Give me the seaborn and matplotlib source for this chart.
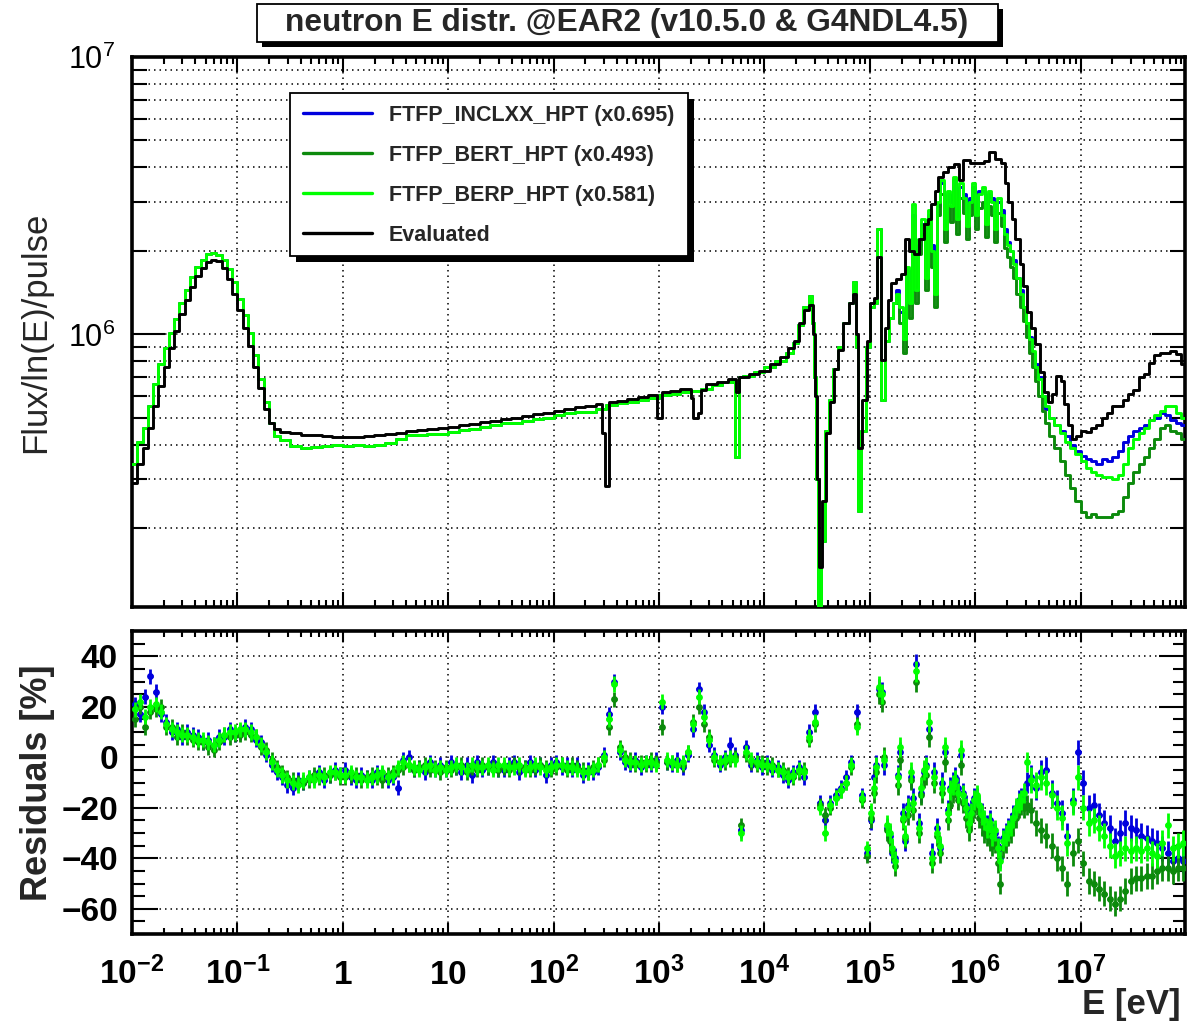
import numpy as np
import matplotlib
matplotlib.use("Agg")
import matplotlib.pyplot as plt
from matplotlib.patches import Rectangle
from matplotlib.lines import Line2D
from matplotlib.font_manager import FontProperties
from matplotlib.ticker import LogLocator, NullFormatter, FixedLocator, MultipleLocator, FuncFormatter
import seaborn as sns

sns.set_style("ticks")
plt.rcParams["font.family"] = ["Liberation Sans", "DejaVu Sans"]
plt.rcParams["mathtext.fontset"] = "custom"
plt.rcParams["mathtext.rm"] = "Liberation Sans"
plt.rcParams["mathtext.bf"] = "Liberation Sans:bold"
plt.rcParams["mathtext.it"] = "Liberation Sans:italic"
plt.rcParams["axes.edgecolor"] = "black"
plt.rcParams["xtick.color"] = "black"
plt.rcParams["ytick.color"] = "black"

# ---------------------------------------------------------------- data
model_names = ["FTFP_INCLXX_HPT", "FTFP_BERT_HPT", "FTFP_BERP_HPT"]
model_scale = [0.695, 0.493, 0.581]
model_colors = ["#0000dd", "#0c8a0c", "#00ff00"]

flux_unit = 1e5  # flux values below are in units of 1e5 / ln(E) / pulse

# histogram bin edges (log10 E [eV]) shared by all curves at thermal/epithermal energies
low_log_e = [-2.00, -1.95, -1.90, -1.85, -1.80, -1.75, -1.70, -1.65, -1.60, -1.55,
             -1.50, -1.45, -1.40, -1.35, -1.30, -1.25, -1.20, -1.15, -1.10, -1.05,
             -1.00, -0.95, -0.90, -0.85, -0.80, -0.75, -0.70, -0.65, -0.60,
             -0.5, -0.4, -0.3, -0.2, -0.1, 0.0, 0.1, 0.2, 0.3, 0.4,
             0.5, 0.6, 0.7, 0.8, 0.9, 1.0, 1.1, 1.2, 1.3, 1.4,
             1.5, 1.6, 1.7, 1.8, 1.9, 2.0, 2.1, 2.2, 2.3, 2.4]

eval_low_flux = [2.9, 3.4, 3.9, 4.6, 5.5, 6.5, 7.6, 8.9, 10.3, 11.8,
                 13.3, 14.8, 16.2, 17.3, 18.2, 18.6, 18.4, 17.3, 15.8, 14.0,
                 12.2, 10.5, 9.1, 7.6, 6.4, 5.4, 4.8, 4.55, 4.45,
                 4.40, 4.35, 4.32, 4.30, 4.28, 4.27, 4.28, 4.30, 4.34, 4.38,
                 4.42, 4.47, 4.51, 4.56, 4.60, 4.65, 4.70, 4.76, 4.82, 4.88,
                 4.94, 5.00, 5.07, 5.15, 5.20, 5.30, 5.37, 5.45, 5.52, 5.60]

eval_hi_log_e = [2.46, 2.49, 2.53, 2.6, 2.7, 2.8, 2.9, 2.98, 3.03, 3.1,
                 3.2, 3.3, 3.32, 3.37, 3.40, 3.45, 3.55, 3.65, 3.73, 3.76,
                 3.85, 3.95, 4.05, 4.15, 4.22, 4.28, 4.33, 4.38, 4.42, 4.46,
                 4.48, 4.50, 4.52, 4.55, 4.58, 4.62, 4.66, 4.70, 4.75, 4.80,
                 4.84, 4.87, 4.89, 4.93, 4.97, 5.00, 5.04, 5.07, 5.11, 5.14,
                 5.17, 5.20, 5.25, 5.30, 5.33, 5.37, 5.42, 5.47, 5.51, 5.55,
                 5.58, 5.62, 5.65, 5.69, 5.74, 5.80, 5.85, 5.88, 5.95, 6.02,
                 6.08, 6.13, 6.19, 6.24, 6.28, 6.31, 6.35, 6.38, 6.42, 6.45,
                 6.49, 6.53, 6.57, 6.61, 6.65, 6.69, 6.73, 6.77, 6.81, 6.84,
                 6.88, 6.92, 6.96, 7.00, 7.05, 7.10, 7.15, 7.20, 7.25, 7.30,
                 7.35, 7.40, 7.45, 7.50, 7.55, 7.60, 7.65, 7.70, 7.75, 7.80,
                 7.85, 7.90, 7.95, 8.00]

eval_hi_flux = [4.4, 2.85, 5.7, 5.75, 5.85, 5.95, 6.05, 5.0, 6.2, 6.25,
                6.35, 5.9, 5.0, 5.2, 6.3, 6.6, 6.75, 6.9, 6.2, 7.0,
                7.2, 7.4, 7.8, 8.3, 8.9, 9.5, 11.0, 12.2, 12.8, 10.0,
                6.0, 3.0, 1.45, 2.5, 4.4, 5.7, 7.5, 8.8, 11.0, 13.0,
                14.0, 10.0, 3.9, 5.8, 9.5, 13.0, 13.5, 19.0, 8.1, 10.5,
                13.3, 15.3, 15.8, 16.5, 22.0, 20.0, 19.5, 22.0, 25.0, 26.0,
                29.5, 33.0, 37.0, 38.5, 40.0, 41.0, 36.0, 42.5, 41.5, 41.5,
                42.0, 45.5, 43.0, 41.5, 35.0, 30.0, 26.0, 22.0, 18.0, 15.0,
                12.0, 10.5, 9.2, 7.3, 6.2, 5.7, 6.1, 7.1, 6.8, 5.6,
                4.7, 4.2, 4.3, 4.5, 4.45, 4.6, 4.7, 5.0, 5.2, 5.5,
                5.5, 5.8, 6.1, 6.3, 7.0, 7.2, 7.9, 8.4, 8.6, 8.6,
                8.7, 8.5, 7.8, 7.3]

# the three (rescaled) simulations coincide below ~150 keV
sim_low_flux = [3.4, 4.1, 4.6, 5.5, 6.6, 7.8, 8.9, 10.1, 11.4, 13.0,
                14.5, 16.1, 17.5, 18.5, 19.5, 19.7, 19.3, 18.5, 17.2, 15.4,
                13.4, 11.7, 10.1, 8.4, 6.9, 5.7, 4.8, 4.3, 4.15,
                3.96, 3.90, 3.93, 3.95, 3.98, 3.97, 3.98, 3.96, 3.99, 4.07,
                4.20, 4.34, 4.33, 4.38, 4.37, 4.46, 4.51, 4.57, 4.63, 4.73,
                4.79, 4.80, 4.87, 4.94, 4.99, 5.14, 5.21, 5.23, 5.24, 5.38]

sim_mid_log_e = [2.5, 2.6, 2.7, 2.8, 2.9, 3.0, 3.1, 3.2, 3.3, 3.4, 3.5, 3.6, 3.7,
                 3.72, 3.755, 3.80, 3.90, 4.00, 4.10, 4.20, 4.27, 4.32, 4.37,
                 4.42, 4.45, 4.47, 4.49, 4.51, 4.54, 4.57, 4.61, 4.65, 4.70,
                 4.75, 4.80, 4.84, 4.87, 4.89, 4.92, 4.96, 5.00, 5.04, 5.07,
                 5.11, 5.14, 5.18, 5.22]

sim_mid_flux = [5.55, 5.65, 5.72, 5.82, 5.92, 6.02, 6.1, 6.2, 6.25, 6.35, 6.55, 6.72, 6.85,
                3.6, 7.0, 7.1, 7.3, 7.6, 8.0, 8.6, 9.3, 10.8, 12.5,
                13.8, 11.0, 7.0, 3.0, 0.9, 1.8, 4.5, 5.8, 7.5, 9.0,
                11.0, 13.0, 15.5, 9.0, 2.3, 4.5, 9.0, 12.5, 13.0, 24.0,
                5.8, 9.5, 11.5, 13.0]

sim_hi_log_e = [5.25, 5.28, 5.31, 5.34, 5.37, 5.40, 5.43, 5.46, 5.49, 5.52,
                5.55, 5.58, 5.61, 5.64, 5.67, 5.70, 5.73, 5.76, 5.79, 5.82,
                5.85, 5.88, 5.91, 5.94, 5.97, 6.00, 6.03, 6.06, 6.09, 6.12,
                6.15, 6.18, 6.21, 6.24, 6.27, 6.30, 6.33, 6.36, 6.39, 6.42,
                6.45, 6.48, 6.51, 6.54, 6.57, 6.60, 6.63, 6.66,
                6.70, 6.75, 6.80, 6.85, 6.90, 6.95, 7.00, 7.05, 7.10, 7.15,
                7.20, 7.25, 7.30, 7.35, 7.40, 7.45, 7.50, 7.55, 7.60, 7.65,
                7.70, 7.75, 7.80, 7.85, 7.90, 7.95, 8.00]

inclxx_hi_flux = [14.5, 12.0, 10.0, 17.0, 13.5, 27.0, 15.0, 21.0, 25.0, 17.0,
                  27.0, 21.0, 15.0, 29.0, 35.0, 25.0, 32.0, 30.0, 36.0, 27.0,
                  34.0, 32.0, 25.0, 31.0, 34.0, 28.0, 33.0, 33.0, 26.0, 32.0,
                  31.0, 25.0, 30.0, 28.0, 24.0, 21.5, 20.0, 18.5, 16.0, 14.5,
                  12.5, 11.0, 9.8, 8.6, 7.8, 7.0, 6.0, 5.4,
                  5.0, 4.7, 4.5, 4.3, 4.0, 3.8, 3.65, 3.55, 3.5, 3.4,
                  3.55, 3.5, 3.6, 3.8, 4.1, 4.3, 4.5, 4.6, 4.7, 4.9,
                  5.0, 5.2, 5.1, 4.9, 4.8, 4.7, 4.6]

bert_hi_flux = [13.0, 11.0, 8.6, 15.5, 11.5, 26.0, 13.0, 19.5, 23.0, 14.5,
                25.0, 17.5, 12.5, 27.0, 32.0, 21.5, 29.0, 25.5, 33.0, 23.0,
                31.0, 27.5, 22.0, 27.0, 31.0, 24.0, 28.5, 30.0, 22.5, 29.0,
                27.0, 21.5, 27.5, 24.5, 20.5, 19.0, 17.5, 16.0, 14.0, 12.5,
                11.2, 9.8, 8.6, 7.6, 6.8, 6.0, 5.3, 4.8,
                4.3, 3.9, 3.5, 3.1, 2.8, 2.5, 2.28, 2.2, 2.25, 2.2,
                2.2, 2.2, 2.25, 2.3, 2.6, 2.9, 3.2, 3.4, 3.6, 3.9,
                4.2, 4.6, 4.7, 4.5, 4.4, 4.2, 4.2]

berp_hi_flux = [14.0, 12.5, 9.6, 17.5, 13.0, 29.5, 14.5, 22.0, 26.0, 16.0,
                28.0, 20.0, 14.0, 30.0, 36.0, 24.0, 33.0, 29.0, 37.0, 26.0,
                35.0, 31.0, 24.5, 30.0, 35.0, 27.0, 32.0, 34.0, 25.0, 33.0,
                30.0, 24.0, 31.0, 27.0, 23.0, 21.0, 20.0, 18.0, 16.0, 14.0,
                12.5, 11.0, 9.6, 8.7, 7.6, 6.9, 6.0, 5.5,
                5.0, 4.7, 4.4, 4.1, 3.9, 3.7, 3.5, 3.3, 3.2, 3.1,
                3.05, 3.06, 3.0, 3.1, 3.4, 3.9, 4.2, 4.4, 4.6, 4.9,
                5.1, 5.3, 5.5, 5.5, 5.2, 5.0, 4.9]

# residual bins: 0.05 dex up to 100 keV, 0.025 dex up to ~3 MeV, 0.05 dex above
res_log_e = np.concatenate([np.linspace(-1.975, 4.975, 140),
                            np.linspace(5.0125, 6.4875, 60),
                            np.linspace(6.525, 7.975, 30)])
res_half_width = np.repeat([0.025, 0.0125, 0.025], [140, 60, 30])
res_err_pct = np.repeat([3.0, 4.0, 5.0], [140, 60, 30])

inclxx_res = [21, 17, 24, 32, 26, 17, 14, 10, 11, 8,
              10, 9, 8, 6, 7, 5, 8, 8, 11, 9,
              10, 12, 11, 7, 6, 1, -3, -6, -8, -11,
              -12, -9, -10, -8, -8, -6, -9, -7, -5, -7,
              -5, -8, -9, -7, -8, -9, -6, -7, -9, -8,
              -12, -1, 0, -5, -4, -6, -2, -5, -3, -5,
              -2, -4, -6, -3, -7, -2, -5, -4, -2, -5,
              -5, -3, -2, -6, -4, -2, -5, -3, -7, -3,
              -2, -4, -3, -5, -3, -7, -5, -6, -4, 1,
              17, 30, 2, -2, -3, -1, -4, -2, -3, -1,
              20, -2, -3, -1, -4, 1, 11, 27, 18, 5,
              1, -3, 0, 5, 1, -29, 4, -3, -1, -4,
              -2, -5, -4, -7, -9, -6, -4, -8, 10, 18,
              -18, -25, -18, -15, -12, -8, -2, 18, -15, -38,
              -25, -8, -3, 27, 26, -3, -28, -31, -38, -40,
              -7, 2, -22, -33, -19, -8, -16, 37, -26, -14,
              -6, -3, 11, -38, -6, -28, -36, -10, 2, -21,
              -12, -10, -8, -12, 1, -14, -19, -25, -21, -16,
              -16, -20, -22, -26, -27, -25, -30, -30, -35, -40,
              -32, -30, -28, -26, -23, -21, -17, -16, -16, -10,
              -8, -12, -6, -5, -14, -18, -22, -31, -17, 2,
              -10, -20, -19, -23, -26, -28, -33, -30, -26, -28,
              -29, -31, -32, -33, -34, -36, -38, -41, -40, -41]

bert_res = [15, 20, 12, 18, 19, 20, 12, 12, 8, 10,
            8, 7, 6, 6, 4, 3, 6, 9, 8, 9,
            9, 10, 9, 8, 4, 3, -1, -4, -6, -8,
            -9, -10, -10, -9, -7, -8, -7, -7, -6, -8,
            -8, -7, -7, -9, -8, -7, -8, -9, -7, -6,
            -5, -4, -3, -5, -4, -3, -5, -4, -6, -4,
            -5, -4, -3, -6, -4, -5, -3, -4, -4, -5,
            -4, -5, -3, -4, -4, -5, -4, -3, -4, -5,
            -4, -3, -5, -3, -4, -5, -6, -4, -3, -1,
            12, 23, 4, 0, -1, -3, -2, -3, -1, -2,
            12, -2, -2, -3, -3, 2, 14, 20, 13, 8,
            -1, -2, -2, -1, 0, -27, 1, -2, -3, -2,
            -4, -3, -5, -5, -7, -8, -6, -5, 7, 13,
            -19, -23, -20, -16, -13, -10, -4, 13, -17, -39,
            -24, -14, -6, 25, 22, 0, -29, -33, -37, -43,
            -11, -1, -25, -32, -23, -9, -21, 30, -30, -15,
            -8, -7, 8, -42, -10, -31, -38, -14, -2, -25,
            -19, -14, -12, -17, -3, -18, -24, -29, -25, -20,
            -19, -24, -27, -30, -31, -33, -35, -34, -42, -50,
            -36, -34, -31, -30, -27, -24, -20, -19, -20, -19,
            -21, -26, -29, -31, -35, -40, -44, -50, -38, -33,
            -42, -49, -50, -52, -54, -56, -58, -56, -53, -49,
            -48, -48, -47, -47, -45, -44, -44, -45, -44, -44]

berp_res = [19, 22, 16, 20, 21, 18, 13, 11, 10, 9,
            9, 8, 7, 7, 6, 5, 7, 9, 10, 10,
            11, 11, 10, 8, 5, 2, -2, -5, -7, -9,
            -10, -11, -9, -8, -9, -7, -8, -6, -6, -7,
            -7, -6, -8, -8, -9, -8, -7, -6, -8, -7,
            -4, -2, -3, -4, -5, -4, -3, -5, -4, -5,
            -4, -3, -4, -5, -3, -4, -4, -3, -5, -3,
            -3, -4, -4, -3, -5, -4, -3, -4, -5, -4,
            -3, -3, -4, -4, -5, -6, -6, -5, -3, 0,
            15, 29, 3, -1, -2, -2, -3, -2, -2, -3,
            22, -1, -2, -3, -2, 2, 13, 24, 16, 7,
            0, -2, -1, 0, -1, -30, 2, -1, -2, -3,
            -3, -4, -5, -6, -8, -7, -5, -6, 8, 14,
            -20, -30, -19, -16, -13, -10, -3, 12, -16, -36,
            -22, -12, -4, 28, 25, -1, -27, -30, -36, -41,
            -8, 4, -24, -31, -20, -6, -18, 34, -28, -12,
            -5, -4, 14, -40, -8, -30, -35, -12, 4, -22,
            -13, -11, -9, -14, 3, -15, -20, -26, -22, -17,
            -15, -19, -23, -25, -28, -26, -31, -29, -36, -41,
            -33, -31, -29, -27, -24, -20, -18, -17, -14, -2,
            -9, -11, -8, -10, -15, -20, -24, -34, -18, -8,
            -20, -26, -25, -28, -31, -35, -39, -38, -36, -37,
            -36, -37, -36, -38, -39, -34, -27, -36, -35, -34]

x_tick_labels = [r"$\mathbf{10^{-2}}$", r"$\mathbf{10^{-1}}$", r"$\mathbf{1}$", r"$\mathbf{10}$",
                 r"$\mathbf{10^{2}}$", r"$\mathbf{10^{3}}$", r"$\mathbf{10^{4}}$", r"$\mathbf{10^{5}}$",
                 r"$\mathbf{10^{6}}$", r"$\mathbf{10^{7}}$"]

# ---------------------------------------------------------------- figure
W, H = 1196, 1028
fig = plt.figure(figsize=(W / 100, H / 100), dpi=100)


def fx(px):
    return px / W


def fy(py):
    return 1 - py / H


ax1 = fig.add_axes([fx(132), fy(607), fx(1185) - fx(132), fy(57) - fy(607)])
ax2 = fig.add_axes([fx(132), fy(934), fx(1185) - fx(132), fy(631) - fy(934)])

for ax in (ax1, ax2):
    ax.set_xscale("log")
    ax.set_axisbelow(True)
ax1.set_yscale("log")

x_min, x_max = 1e-2, 10 ** 7.99

# ---- upper panel: spectra
sim_log_e = low_log_e + sim_mid_log_e + sim_hi_log_e
model_flux = [sim_low_flux + sim_mid_flux + inclxx_hi_flux,
              sim_low_flux + sim_mid_flux + bert_hi_flux,
              sim_low_flux + sim_mid_flux + berp_hi_flux]

for name, flux, col in zip(model_names, model_flux, model_colors):
    sns.lineplot(x=10 ** np.array(sim_log_e), y=np.array(flux) * flux_unit, ax=ax1,
                 color=col, linewidth=2.1, drawstyle="steps-post", errorbar=None,
                 sort=False, zorder=3)

eval_log_e = low_log_e + eval_hi_log_e
eval_flux = eval_low_flux + eval_hi_flux
sns.lineplot(x=10 ** np.array(eval_log_e), y=np.array(eval_flux) * flux_unit, ax=ax1,
             color="black", linewidth=2.1, drawstyle="steps-post", errorbar=None,
             sort=False, zorder=4)

ax1.set_xlim(x_min, x_max)
ax1.set_ylim(1.04e5, 1e7)

# ---- lower panel: residuals
x_res = 10 ** res_log_e
x_lo = x_res - 10 ** (res_log_e - res_half_width)
x_hi = 10 ** (res_log_e + res_half_width) - x_res
for res, col, z in zip([inclxx_res, bert_res, berp_res], model_colors, [3, 4, 5]):
    ax2.errorbar(x_res, res, xerr=[x_lo, x_hi], yerr=res_err_pct, fmt="none",
                 ecolor=col, elinewidth=2.0, capsize=0, zorder=z)
    sns.scatterplot(x=x_res, y=res, ax=ax2, color=col, s=24, linewidth=0,
                    zorder=z, legend=False)

ax2.set_xlim(x_min, x_max)
ax2.set_ylim(-70, 50)

# ---- axes styling (ROOT-like)
dotted = (0, (1.0, 2.6))
for ax in (ax1, ax2):
    for sp in ax.spines.values():
        sp.set_linewidth(2.6)
        sp.set_color("black")
    ax.xaxis.set_major_locator(LogLocator(base=10, numticks=30))
    ax.xaxis.set_minor_locator(LogLocator(base=10, subs=np.arange(2, 10), numticks=30))
    ax.xaxis.set_minor_formatter(NullFormatter())
    ax.tick_params(which="both", direction="in", top=True, right=True, width=1.5)
    ax.grid(which="major", color="black", linestyle=dotted, linewidth=1.1)
    ax.set_xlim(x_min, x_max)

# upper panel ticks
ax1.yaxis.set_major_locator(FixedLocator([1e5, 1e6, 1e7]))
ax1.yaxis.set_minor_locator(LogLocator(base=10, subs=np.arange(2, 10), numticks=30))
ax1.yaxis.set_minor_formatter(NullFormatter())
ax1.yaxis.set_major_formatter(FuncFormatter(lambda v, p: r"$\mathrm{10^{%d}}$" % round(np.log10(v))))
ax1.grid(which="minor", axis="y", color="black", linestyle=dotted, linewidth=1.1)
ax1.tick_params(axis="y", which="major", length=24, labelsize=22, pad=12)
ax1.tick_params(axis="y", which="minor", length=11)
ax1.tick_params(axis="x", which="major", length=11, labelbottom=False)
ax1.tick_params(axis="x", which="minor", length=5)
ax1.set_ylim(1.04e5, 1e7)
ax1.set_ylabel("Flux/ln(E)/pulse", fontsize=25)
ax1.yaxis.set_label_coords(-0.076, 0.5)

# lower panel ticks
ax2.yaxis.set_major_locator(MultipleLocator(20))
ax2.yaxis.set_minor_locator(MultipleLocator(5))
ax2.tick_params(axis="y", which="major", length=19, labelsize=24, pad=10)
ax2.tick_params(axis="y", which="minor", length=9)
ax2.tick_params(axis="x", which="major", length=8, labelsize=24, pad=36)
ax2.tick_params(axis="x", which="minor", length=4)
for lab in ax2.get_yticklabels():
    lab.set_fontweight("bold")
ax2.set_xticks([10.0 ** k for k in range(-2, 8)], labels=x_tick_labels)
ax2.set_xlim(x_min, x_max)
for tick in ax2.xaxis.get_major_ticks():
    tick.label1.set_verticalalignment("baseline")
ax2.set_ylabel("Residuals [%]", fontsize=26, fontweight="bold")
ax2.yaxis.set_label_coords(-0.073, 0.5)
ax2.set_xlabel("E [eV]", fontsize=25, fontweight="bold", ha="right")
ax2.xaxis.set_label_coords((1181 - 132) / 1053, (934 - 988) / 303)
ax2.xaxis.label.set_verticalalignment("top")

# ---- legend with a drop-shadowed box
leg_font = FontProperties(family="Liberation Sans", weight="bold", size=15.5)
handles = [Line2D([], [], color=c, linewidth=2.4) for c in model_colors] + \
          [Line2D([], [], color="black", linewidth=2.4)]
labels = [f"{n} (x{s:.3f})" for n, s in zip(model_names, model_scale)] + ["Evaluated"]
shadow = Rectangle((fx(296), fy(262)), fx(688) - fx(290), fy(93) - fy(256),
                   transform=fig.transFigure, facecolor="black", edgecolor="none",
                   zorder=6, clip_on=False)
box = Rectangle((fx(290), fy(256)), fx(688) - fx(290), fy(93) - fy(256),
                transform=fig.transFigure, facecolor="white", edgecolor="black",
                linewidth=1.3, zorder=6.5, clip_on=False)
ax1.add_patch(shadow)
ax1.add_patch(box)
leg = ax1.legend(handles, labels, loc="upper left", bbox_to_anchor=(fx(303), fy(105)),
                 bbox_transform=fig.transFigure, frameon=False, borderpad=0,
                 borderaxespad=0, handlelength=3.2, handletextpad=0.8,
                 labelspacing=0.88, prop=leg_font)
leg.set_zorder(7)

# ---- title box
fig.patches.append(Rectangle((fx(262), fy(47)), fx(998) - fx(257), fy(4) - fy(42),
                             transform=fig.transFigure, facecolor="black",
                             edgecolor="none", zorder=1))
fig.patches.append(Rectangle((fx(257), fy(42)), fx(998) - fx(257), fy(4) - fy(42),
                             transform=fig.transFigure, facecolor="white",
                             edgecolor="black", linewidth=1.3, zorder=2))
fig.text(fx(627), fy(23), "neutron E distr. @EAR2 (v10.5.0 & G4NDL4.5)",
         ha="center", va="center", fontsize=22.8, fontweight="bold", zorder=3)

fig.savefig("out.png", dpi=100)
